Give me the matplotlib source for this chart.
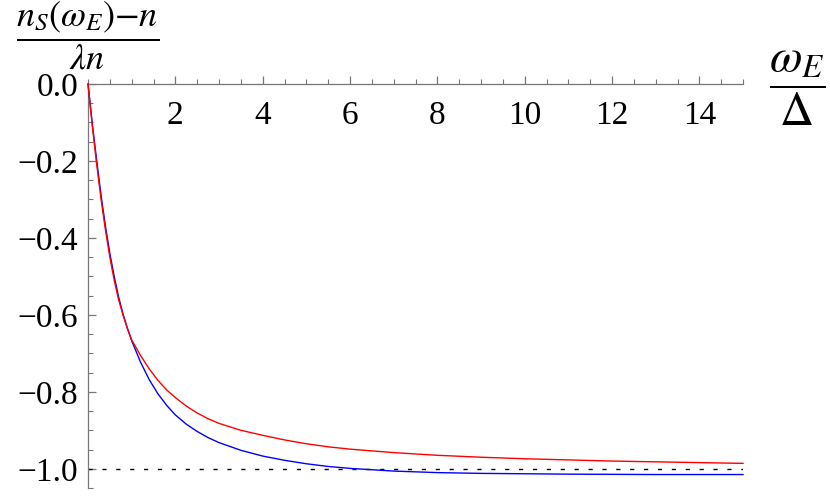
import matplotlib
matplotlib.use("Agg")
import matplotlib.pyplot as plt
from matplotlib.ticker import MultipleLocator, FuncFormatter

# values
x = [0, 0.1, 0.2, 0.3, 0.4, 0.5, 0.6, 0.7, 0.8, 0.9, 1.0, 1.2, 1.4, 1.6, 1.8, 2.0,
     2.25, 2.5, 2.75, 3.0, 3.5, 4, 4.5, 5, 5.5, 6, 7, 8, 9, 10, 11, 12, 13, 14, 15]
red = [0, -0.11, -0.21, -0.30, -0.38, -0.45, -0.51, -0.56, -0.60, -0.635, -0.665,
       -0.705, -0.74, -0.77, -0.795, -0.815, -0.837, -0.855, -0.87, -0.882, -0.900,
       -0.913, -0.925, -0.935, -0.943, -0.949, -0.958, -0.965, -0.970, -0.974,
       -0.977, -0.980, -0.982, -0.984, -0.986]
blue = [0, -0.105, -0.20, -0.29, -0.37, -0.44, -0.50, -0.553, -0.597, -0.634, -0.667,
        -0.722, -0.768, -0.805, -0.835, -0.86, -0.884, -0.903, -0.919, -0.932, -0.952,
        -0.967, -0.978, -0.987, -0.994, -0.999, -1.006, -1.010, -1.012, -1.013,
        -1.014, -1.0145, -1.015, -1.015, -1.015]
asymptote = -1.0
xticks = [2, 4, 6, 8, 10, 12, 14]
yticks = [0.0, -0.2, -0.4, -0.6, -0.8, -1.0]

plt.rcParams['font.family'] = ['Liberation Serif', 'DejaVu Serif']
plt.rcParams['mathtext.fontset'] = 'stix'

fig = plt.figure(figsize=(8.3, 4.96), dpi=100)
ax = fig.add_axes([88 / 830, 8 / 496, 655 / 830, 404 / 496])

ax.plot(x, blue, color=(0, 0, 1), lw=1.0, clip_on=False, zorder=3)
ax.plot(x, red, color=(1, 0, 0), lw=1.0, clip_on=False, zorder=4)
ax.plot([0, 15], [asymptote, asymptote], color='black', lw=1.0,
        dashes=(3, 7), zorder=2)

ax.set_xlim(0, 15)
ax.set_ylim(-1.05, 0)

for s in ['top', 'right']:
    ax.spines[s].set_visible(False)
ax.spines['bottom'].set_position(('data', 0))
ax.spines['bottom'].set_color('#777777')
ax.spines['left'].set_color('#777777')
ax.spines['bottom'].set_linewidth(0.9)
ax.spines['left'].set_linewidth(0.9)

ax.set_xticks(xticks)
ax.xaxis.set_minor_locator(MultipleLocator(0.5))
ax.set_yticks(yticks)
ax.yaxis.set_minor_locator(MultipleLocator(0.05))
ax.yaxis.set_major_formatter(FuncFormatter(lambda v, p: f"{v:.1f}".replace('-', '\u2212')))

ax.tick_params(axis='x', which='both', direction='in', colors='#777777',
               labelcolor='black', labelsize=24, pad=12)
ax.tick_params(axis='y', which='both', direction='in', colors='#777777',
               labelcolor='black', labelsize=24, pad=7)
ax.tick_params(which='major', length=6, width=0.9)
ax.tick_params(which='minor', length=3.5, width=0.8)

fig.text(88 / 830, 1 - 36 / 496, r'$\dfrac{n_S(\omega_E){-}n}{\lambda n}$',
         fontsize=26, ha='center', va='center')
fig.text(797 / 830, 1 - 88 / 496, r'$\dfrac{\omega_E}{\Delta}$',
         fontsize=34, ha='center', va='center')

fig.savefig("out.png", dpi=100)
